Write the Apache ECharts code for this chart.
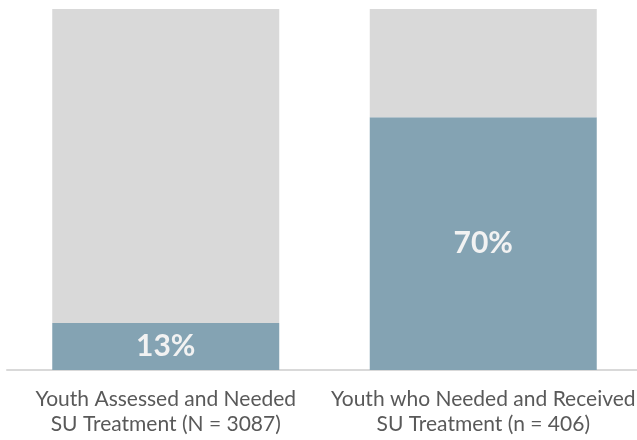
<!DOCTYPE html>
<html>
<head>
<meta charset="utf-8">
<script src="https://cdn.jsdelivr.net/npm/echarts@6/dist/echarts.min.js"></script>
<style>
html,body{margin:0;padding:0;background:#fff;overflow:hidden;width:637px;height:440px;}
#chart{width:645px;height:440px;}
</style>
</head>
<body>
<div id="chart"></div>
<script>
const categories = ['Youth Assessed and Needed\nSU Treatment (N = 3087)', 'Youth who Needed and Received\nSU Treatment (n = 406)'];
const percentValues = [13, 70];
const remainderValues = percentValues.map(v => 100 - v);

const chart = echarts.init(document.getElementById('chart'), null, {renderer: 'canvas'});
chart.setOption({
  animation: false,
  backgroundColor: '#ffffff',
  grid: {left: 7, width: 635, top: 9, bottom: 70, containLabel: false},
  xAxis: {
    type: 'category',
    data: categories,
    axisLine: {show: true, lineStyle: {color: '#d9d9d9', width: 2}},
    axisTick: {show: false},
    axisLabel: {
      color: '#595959', fontFamily: 'Lato', fontSize: 21, lineHeight: 25,
      margin: 17, interval: 0
    }
  },
  yAxis: {type: 'value', min: 0, max: 100, show: false, splitLine: {show: false}},
  series: [
    {
      type: 'bar', stack: 's', data: percentValues, barWidth: 227,
      itemStyle: {color: '#84a3b3'},
      label: {
        show: true, position: 'inside', formatter: '{c}%',
        color: '#f2f2f2', fontFamily: 'Lato', fontWeight: 'bold', fontSize: 30
      }
    },
    {
      type: 'bar', stack: 's', data: remainderValues, barWidth: 227,
      itemStyle: {color: '#d9d9d9'},
      label: {show: false}
    }
  ]
});
</script>
</body>
</html>
